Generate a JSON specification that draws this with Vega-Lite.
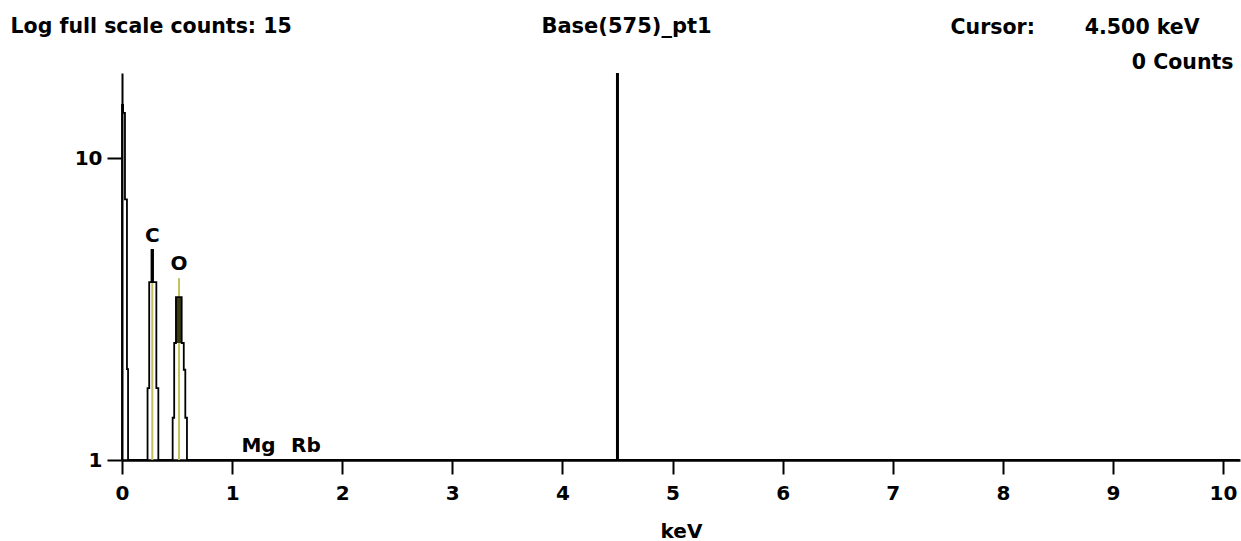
{
  "$schema": "https://vega.github.io/schema/vega-lite/v6.json",
  "width": 1118,
  "height": 387,
  "autosize": {"type": "none"},
  "padding": {"left": 122, "top": 73, "right": 1, "bottom": 81},
  "background": "white",
  "config": {
    "view": {"stroke": null},
    "font": "DejaVu Sans",
    "axis": {
      "labelFont": "DejaVu Sans", "titleFont": "DejaVu Sans",
      "labelFontWeight": "bold", "titleFontWeight": "bold",
      "labelFontSize": 20, "titleFontSize": 20,
      "labelColor": "black", "titleColor": "black",
      "domainColor": "black", "tickColor": "black", "grid": false
    }
  },
  "datasets": {
    "spectrum": [
      {"energy": 0, "counts": 1},
      {"energy": 0, "counts": 15},
      {"energy": 0.01, "counts": 14.1},
      {"energy": 0.027, "counts": 7.3},
      {"energy": 0.045, "counts": 2.0},
      {"energy": 0.055, "counts": 1},
      {"energy": 0.232, "counts": 1.73},
      {"energy": 0.247, "counts": 3.88},
      {"energy": 0.268, "counts": 4.96},
      {"energy": 0.282, "counts": 3.88},
      {"energy": 0.312, "counts": 1.73},
      {"energy": 0.33, "counts": 1},
      {"energy": 0.46, "counts": 1.38},
      {"energy": 0.474, "counts": 2.44},
      {"energy": 0.49, "counts": 3.46},
      {"energy": 0.542, "counts": 2.44},
      {"energy": 0.561, "counts": 1.99},
      {"energy": 0.575, "counts": 1.38},
      {"energy": 0.59, "counts": 1},
      {"energy": 10.15, "counts": 1}
    ],
    "elements": [
      {"element": "C", "energy": 0.275, "top": 4.96},
      {"element": "O", "energy": 0.518, "top": 4.0},
      {"element": "Mg", "energy": 1.24, "top": 1},
      {"element": "Rb", "energy": 1.67, "top": 1}
    ],
    "peakfill": [
      {"start": 0.49, "end": 0.542, "low": 2.44, "high": 3.46}
    ],
    "cursor": [{"energy": 4.5, "counts": 0}]
  },
  "resolve": {"axis": {"x": "independent", "y": "independent"}},
  "layer": [
    {
      "data": {"name": "elements"},
      "mark": {"type": "rule", "color": "#c4bf5c", "strokeWidth": 2},
      "encoding": {
        "x": {"field": "energy", "type": "quantitative", "scale": {"domain": [0, 10.154], "nice": false}, "axis": null},
        "y": {
          "field": "top", "type": "quantitative",
          "scale": {"type": "log", "domain": [1, 19.12], "nice": false},
          "axis": {
            "orient": "right", "domain": false, "ticks": false, "labels": false,
            "title": "Cursor:\u00a0\u00a0\u00a0\u00a0\u00a0\u00a0\u00a04.500 keV",
            "titleAngle": 0, "titleAlign": "left", "titleBaseline": "alphabetic",
            "titleFontSize": 20.5,
            "titleX": -290, "titleY": -40
          }
        },
        "y2": {"datum": 1}
      }
    },
    {
      "data": {"name": "peakfill"},
      "mark": {"type": "rect", "fill": "#3b3a12"},
      "encoding": {
        "x": {"field": "start", "type": "quantitative", "axis": null},
        "x2": {"field": "end"},
        "y": {
          "field": "low", "type": "quantitative",
          "axis": {
            "orient": "right", "domain": false, "ticks": false, "labels": false,
            "title": "0 Counts",
            "titleAngle": 0, "titleAlign": "right", "titleBaseline": "alphabetic",
            "titleFontSize": 20.5,
            "titleX": -7, "titleY": -5
          }
        },
        "y2": {"field": "high"}
      }
    },
    {
      "data": {"name": "spectrum"},
      "mark": {"type": "line", "interpolate": "step-after", "color": "black", "strokeWidth": 1.8},
      "encoding": {
        "x": {
          "field": "energy", "type": "quantitative",
          "axis": {
            "values": [0, 1, 2, 3, 4, 5, 6, 7, 8, 9, 10], "format": "d",
            "tickSize": 14, "tickWidth": 2, "labelPadding": 9, "labelFlush": false, "labelOverlap": false,
            "domainWidth": 2.5, "title": "keV", "titleBaseline": "alphabetic", "titleY": 77
          }
        },
        "y": {
          "field": "counts", "type": "quantitative",
          "axis": {
            "values": [1, 10], "format": "d",
            "tickSize": 15, "tickWidth": 2, "labelPadding": 5, "labelFlush": false,
            "domainWidth": 2,
            "title": "Log full scale counts: 15", "titleAngle": 0, "titleAlign": "left",
            "titleFontSize": 20.5,
            "titleBaseline": "alphabetic", "titleX": -112, "titleY": -41
          }
        }
      }
    },
    {
      "data": {"name": "cursor"},
      "mark": {"type": "rule", "color": "black", "strokeWidth": 3},
      "encoding": {
        "x": {
          "field": "energy", "type": "quantitative",
          "axis": {
            "orient": "top", "domain": false, "ticks": false, "labels": false,
            "title": "Base(575)_pt1", "titleAlign": "center", "titleBaseline": "alphabetic",
            "titleFontSize": 21,
            "titleX": 504, "titleY": -41
          }
        }
      }
    },
    {
      "data": {"name": "elements"},
      "mark": {"type": "text", "font": "DejaVu Sans", "fontWeight": "bold", "fontSize": 20, "baseline": "alphabetic", "dy": -8, "color": "black"},
      "encoding": {
        "x": {"field": "energy", "type": "quantitative", "axis": null},
        "y": {"field": "top", "type": "quantitative", "axis": null},
        "text": {"field": "element"}
      }
    }
  ]
}
